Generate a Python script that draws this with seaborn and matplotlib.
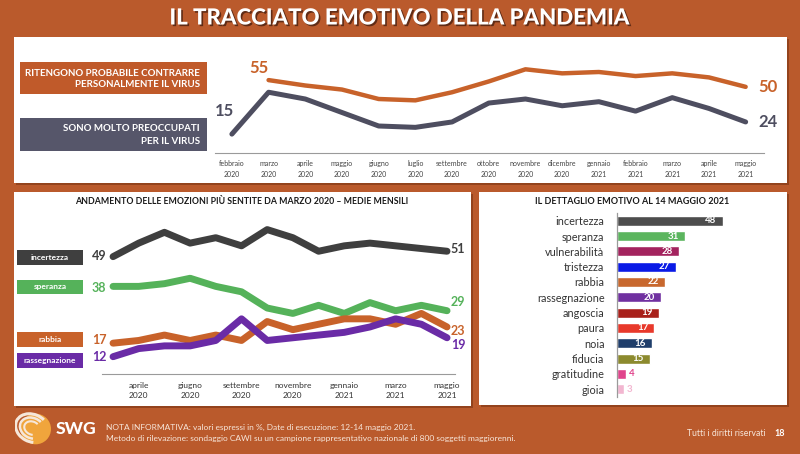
import numpy as np
import pandas as pd
import matplotlib
matplotlib.use('Agg')
import matplotlib.pyplot as plt
import matplotlib.patches as mpatches
import matplotlib.patheffects as pe
import seaborn as sns

sns.set_theme(style='white')
plt.rcParams['font.family'] = ['Lato', 'DejaVu Sans']

# ---------------- data ----------------
top_months = ['febbraio\n2020', 'marzo\n2020', 'aprile\n2020', 'maggio\n2020', 'giugno\n2020',
              'luglio\n2020', 'settembre\n2020', 'ottobre\n2020', 'novembre\n2020', 'dicembre\n2020',
              'gennaio\n2021', 'febbraio\n2021', 'marzo\n2021', 'aprile\n2021', 'maggio\n2021']
contrarre = [np.nan, 55, 51, 48, 41, 40, 46, 54, 63, 60, 61, 58, 60, 57, 50]
preoccupati = [15, 46, 41, 31, 21, 20, 24, 38, 41, 36, 39, 32, 42, 34, 24]

emo_months = ['mar 2020', 'apr 2020', 'mag 2020', 'giu 2020', 'lug 2020', 'set 2020', 'ott 2020',
              'nov 2020', 'dic 2020', 'gen 2021', 'feb 2021', 'mar 2021', 'apr 2021', 'mag 2021']
emo_tick_pos = [1, 3, 5, 7, 9, 11, 13]
emo_tick_labels = ['aprile\n2020', 'giugno\n2020', 'settembre\n2020', 'novembre\n2020',
                   'gennaio\n2021', 'marzo\n2021', 'maggio\n2021']
incertezza = [49, 54, 58, 54, 56, 53, 59, 56, 51, 53, 54, 53, 52, 51]
speranza = [38, 38, 39, 41, 38, 36, 30, 28, 31, 28, 32, 29, 31, 29]
rabbia = [17, 18, 20, 18, 20, 18, 25, 22, 24, 26, 26, 24, 28, 23]
rassegnazione = [12, 15, 16, 16, 18, 26, 18, 19, 20, 21, 23, 26, 24, 19]

bar_emotions = ['incertezza', 'speranza', 'vulnerabilità', 'tristezza', 'rabbia', 'rassegnazione',
                'angoscia', 'paura', 'noia', 'fiducia', 'gratitudine', 'gioia']
bar_values = [48, 31, 28, 27, 22, 20, 19, 17, 16, 15, 4, 3]

# ---------------- style ----------------
W, H = 800, 454
BG = '#BA5A2C'
ORANGE = '#C8622A'
SLATE = '#4E4E60'
C_INC = '#3F3F3F'
C_SPE = '#55B25A'
C_RAB = '#C8622A'
C_RAS = '#6A2BA6'
bar_colors = ['#4D4D4D', '#5BB55E', '#A3235E', '#0A1AE6', '#C8682E', '#7030A0',
              '#A8201A', '#E8392B', '#1F3E6B', '#8C8A2E', '#E0448C', '#F2B6D0']

fig = plt.figure(figsize=(8, 4.54), dpi=100, facecolor=BG)


def fx(x):
    return x / W


def fy(y):
    return 1 - y / H


def panel(x0, y0, x1, y1):
    sh = mpatches.Rectangle((fx(x0 + 2), fy(y1 + 2)), fx(x1 - x0), (y1 - y0) / H,
                            transform=fig.transFigure, facecolor='#7A3414', alpha=0.6,
                            edgecolor='none', zorder=-2)
    r = mpatches.Rectangle((fx(x0), fy(y1)), fx(x1 - x0), (y1 - y0) / H,
                           transform=fig.transFigure, facecolor='white', edgecolor='none', zorder=-1)
    fig.patches.extend([sh, r])


def box(x0, y0, x1, y1, color):
    r = mpatches.Rectangle((fx(x0), fy(y1)), fx(x1 - x0), (y1 - y0) / H,
                           transform=fig.transFigure, facecolor=color, edgecolor='none', zorder=1)
    fig.patches.append(r)


def add_ax(x0, y0, x1, y1):
    ax = fig.add_axes([fx(x0), fy(y1), fx(x1 - x0), (y1 - y0) / H])
    ax.patch.set_visible(False)
    return ax


panel(14, 37, 787, 183)
panel(14, 192, 471, 406)
panel(479, 192, 787, 405)

# title
fig.text(0.5, fy(18), 'IL TRACCIATO EMOTIVO DELLA PANDEMIA', color='white', fontsize=16,
         fontweight='black', ha='center', va='center',
         path_effects=[pe.withSimplePatchShadow(offset=(1.2, -1.2), shadow_rgbFace='#4A2010', alpha=0.8)])

# ---------------- top chart ----------------
box(20, 62, 207, 94, '#C05A2A')
box(20, 118, 207, 151, '#56566A')
fig.text(fx(200), fy(73), 'RITENGONO PROBABILE CONTRARRE', color='white', fontsize=7,
         fontweight='bold', ha='right', va='center')
fig.text(fx(200), fy(84.5), 'PERSONALMENTE IL VIRUS', color='white', fontsize=7,
         fontweight='bold', ha='right', va='center')
fig.text(fx(200), fy(128.5), 'SONO MOLTO PREOCCUPATI', color='white', fontsize=7,
         fontweight='bold', ha='right', va='center')
fig.text(fx(200), fy(141), 'PER IL VIRUS', color='white', fontsize=7,
         fontweight='bold', ha='right', va='center')

ax1 = add_ax(215, 45, 764, 153)
rows = []
for i, v in enumerate(contrarre):
    if not np.isnan(v):
        rows.append(dict(idx=i, val=v, serie='contrarre'))
for i, v in enumerate(preoccupati):
    rows.append(dict(idx=i, val=v, serie='preoccupati'))
df_top = pd.DataFrame(rows)
sns.lineplot(data=df_top[df_top.serie == 'contrarre'], x='idx', y='val', color=ORANGE,
             linewidth=3.2, ax=ax1, legend=False, solid_capstyle='round', solid_joinstyle='round')
sns.lineplot(data=df_top[df_top.serie == 'preoccupati'], x='idx', y='val', color=SLATE,
             linewidth=3.6, ax=ax1, legend=False, solid_capstyle='round', solid_joinstyle='round')
ax1.set_xlim(-0.46, 14.5)
ax1.set_ylim(1, 81)
ax1.set_xticks(range(len(top_months)))
ax1.set_xticklabels(top_months, fontsize=5, color='#444444', linespacing=1.6)
ax1.tick_params(axis='x', length=0, pad=5)
ax1.set_yticks([])
ax1.set_xlabel('')
ax1.set_ylabel('')
for s in ['top', 'right', 'left']:
    ax1.spines[s].set_visible(False)
ax1.spines['bottom'].set_color('#9A9A9A')
ax1.spines['bottom'].set_linewidth(0.8)
ax1.text(1, contrarre[1] + 3, f'{contrarre[1]:.0f}', color=ORANGE, fontsize=12, fontweight='bold',
         ha='right', va='bottom')
ax1.text(-0.2, preoccupati[0] + 11, f'{preoccupati[0]:.0f}', color=SLATE, fontsize=12,
         fontweight='bold', ha='center', va='bottom')
ax1.text(14.35, contrarre[-1], f'{contrarre[-1]:.0f}', color=ORANGE, fontsize=12, fontweight='bold',
         ha='left', va='center')
ax1.text(14.35, preoccupati[-1], f'{preoccupati[-1]:.0f}', color=SLATE, fontsize=12,
         fontweight='bold', ha='left', va='center')

# ---------------- bottom-left chart ----------------
fig.text(fx(242), fy(201), 'ANDAMENTO DELLE EMOZIONI PIÙ SENTITE DA MARZO 2020 – MEDIE MENSILI',
         color='#1A1A1A', fontsize=6.3, fontweight='bold', ha='center', va='center')
ax2 = add_ax(102, 215, 455, 374)
series = [('speranza', speranza, C_SPE), ('rabbia', rabbia, C_RAB),
          ('rassegnazione', rassegnazione, C_RAS), ('incertezza', incertezza, C_INC)]
df_emo = pd.DataFrame([dict(idx=i, val=v, emo=n) for n, vals, c in series for i, v in enumerate(vals)])
for n, vals, c in series:
    sns.lineplot(data=df_emo[df_emo.emo == n], x='idx', y='val', color=c, linewidth=5,
                 ax=ax2, legend=False, solid_capstyle='round', solid_joinstyle='round')
ax2.set_xlim(-0.43, 13.31)
ax2.set_ylim(5.6, 64.4)
ax2.set_xticks(emo_tick_pos)
ax2.set_xticklabels(emo_tick_labels, fontsize=6, color='#333333', linespacing=1.5)
ax2.tick_params(axis='x', length=0, pad=6)
ax2.set_yticks([])
ax2.set_xlabel('')
ax2.set_ylabel('')
for s in ['top', 'right', 'left']:
    ax2.spines[s].set_visible(False)
ax2.spines['bottom'].set_color('#9A9A9A')
ax2.spines['bottom'].set_linewidth(0.8)

legend_boxes = [('incertezza', 250, 265, C_INC, incertezza), ('speranza', 280, 294, C_SPE, speranza),
                ('rabbia', 332, 347, C_RAB, rabbia), ('rassegnazione', 353, 368, C_RAS, rassegnazione)]
for name, y0, y1, c, vals in legend_boxes:
    box(17, y0, 83, y1, c)
    fig.text(fx(50), fy((y0 + y1) / 2), name, color='white', fontsize=6, fontweight='bold',
             ha='center', va='center')
start_y = {'incertezza': 256, 'speranza': 288, 'rabbia': 340, 'rassegnazione': 357}
end_y = {'incertezza': 249, 'speranza': 302, 'rabbia': 331, 'rassegnazione': 345}
for name, y0, y1, c, vals in legend_boxes:
    fig.text(fx(99), fy(start_y[name]), f'{vals[0]}', color=c, fontsize=9, fontweight='bold',
             ha='center', va='center')
    fig.text(fx(458), fy(end_y[name]), f'{vals[-1]}', color=c, fontsize=9, fontweight='bold',
             ha='center', va='center')

# ---------------- bottom-right bars ----------------
fig.text(fx(632), fy(202), 'IL DETTAGLIO EMOTIVO AL 14 MAGGIO 2021', color='#1A1A1A', fontsize=6.5,
         fontweight='bold', ha='center', va='center')
ax3 = add_ax(617, 213, 771, 397)
df_bar = pd.DataFrame(dict(emo=bar_emotions, val=bar_values))
sns.barplot(data=df_bar, x='val', y='emo', hue='emo', palette=bar_colors, orient='h',
            width=0.66, legend=False, ax=ax3, saturation=1)
ax3.set_xlim(0, 70)
ax3.set_ylim(11.5, -0.5)
ax3.set_xticks([])
ax3.set_xlabel('')
ax3.set_ylabel('')
ax3.tick_params(axis='y', length=0, pad=9, labelsize=7.8, labelcolor='#333333')
for s in ['top', 'right', 'bottom']:
    ax3.spines[s].set_visible(False)
ax3.spines['left'].set_color('#9A9A9A')
ax3.spines['left'].set_linewidth(0.9)
for i, (v, c) in enumerate(zip(bar_values, bar_colors)):
    if v >= 10:
        ax3.text(v - 2.8, i, f'{v}', color='white', fontsize=7, fontweight='bold',
                 ha='right', va='center')
    else:
        ax3.text(v + 1.6, i, f'{v}', color=c, fontsize=7, fontweight='bold',
                 ha='left', va='center')

# ---------------- footer ----------------
logo_ax = fig.add_axes([fx(15), fy(447), fx(36), 36 / H])
logo_ax.set_xlim(-1, 1)
logo_ax.set_ylim(-1, 1)
logo_ax.set_aspect('equal')
logo_ax.axis('off')
logo_ax.add_patch(mpatches.Circle((0.15, 0), 0.85, facecolor='#F0A53C', edgecolor='none'))
for r, w in [(0.95, 2.2), (0.7, 1.8), (0.45, 1.5)]:
    logo_ax.add_patch(mpatches.Arc((-0.05, 0.05), 2 * r, 1.6 * r, angle=-25, theta1=60, theta2=300,
                                   color='#F6E7DA', linewidth=w))
fig.text(fx(56), fy(429), 'SWG', color='white', fontsize=12.5, fontweight='black',
         ha='left', va='center')
fig.text(fx(106), fy(427), 'NOTA INFORMATIVA: valori espressi in %, Date di esecuzione: 12-14 maggio 2021.',
         color='#F7E6DA', fontsize=6.05, ha='left', va='center')
fig.text(fx(106), fy(438), 'Metodo di rilevazione: sondaggio CAWI su un campione rappresentativo nazionale di 800 soggetti maggiorenni.',
         color='#F7E6DA', fontsize=6.05, ha='left', va='center')
fig.text(fx(687), fy(434), 'Tutti i diritti riservati', color='#F7E6DA', fontsize=6.2,
         ha='left', va='center')
fig.text(fx(780), fy(434), '18', color='white', fontsize=6.5, fontweight='bold',
         ha='center', va='center')

fig.savefig('out.png', dpi=100, facecolor=BG)
